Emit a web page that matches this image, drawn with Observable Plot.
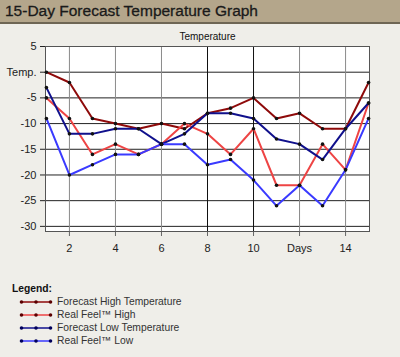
<!DOCTYPE html>
<html>
<head>
<meta charset="utf-8">
<script src="https://cdn.jsdelivr.net/npm/d3@7"></script>
<script src="https://cdn.jsdelivr.net/npm/@observablehq/plot@0.6"></script>
<style>
  html, body { margin: 0; padding: 0; }
  body { width: 400px; height: 357px; background: #efeee9; position: relative; overflow: hidden; font-family: "Liberation Sans", Arial, sans-serif; }
  #header { position: absolute; left: 0; top: 0; width: 400px; height: 22px; background: #b4a68b; border-bottom: 2px solid #6e6654; }
  #header span { position: absolute; left: 5px; top: 2px; font-size: 15.5px; color: #1a1a1a; font-weight: normal; -webkit-text-stroke: 0.3px #1a1a1a; }
  #chart { position: absolute; left: 0; top: 26px; }
  #legend { position: absolute; left: 12px; top: 283px; font-size: 10.3px; color: #333; }
  #legend .t { font-weight: bold; color: #111; margin-bottom: 1px; }
  #legend .row { height: 13px; display: flex; align-items: center; }
  #legend svg { margin-left: 7px; margin-right: 4px; }
</style>
</head>
<body>
<div id="header"><span>15-Day Forecast Temperature Graph</span></div>
<div id="chart"></div>
<div id="legend"></div>
<script>
const days = [1,2,3,4,5,6,7,8,9,10,11,12,13,14,15];
const forecastHigh = [0,-2,-9,-10,-11,-10,-11,-8,-7,-5,-9,-8,-11,-11,-2];
const realFeelHigh = [-5,-9,-16,-14,-16,-14,-10,-12,-16,-11,-22,-22,-14,-19,-6];
const forecastLow = [-3,-12,-12,-11,-11,-14,-12,-8,-8,-9,-13,-14,-17,-11,-6];
const realFeelLow = [-9,-20,-18,-16,-16,-14,-14,-18,-17,-21,-26,-22,-26,-19,-9];
const seriesNames = ["Forecast High Temperature", "Real Feel\u2122 High", "Forecast Low Temperature", "Real Feel\u2122 Low"];
const seriesColors = ["#8e0a0a", "#ee4444", "#10108c", "#3a3aff"];
const yTicks = [5,0,-5,-10,-15,-20,-25,-30];
const xTicks = [2,4,6,8,10,12,14];
const yTickLabels = {"0": "Temp."};
const xTickLabels = {"12": "Days"};
const chartTitle = "Temperature";

const allSeries = [forecastHigh, realFeelHigh, forecastLow, realFeelLow];
const rows = [];
allSeries.forEach((vals, si) => vals.forEach((v, i) => rows.push({day: days[i], temp: v, series: seriesNames[si]})));

const plot = Plot.plot({
  width: 400,
  height: 245,
  marginLeft: 45,
  marginRight: 31,
  marginTop: 20,
  marginBottom: 40,
  style: { background: "transparent", fontFamily: "Liberation Sans, Arial, sans-serif", fontSize: "11px", color: "#222" },
  x: { domain: [0.96, 15.04], ticks: xTicks, tickFormat: d => xTickLabels[d] ?? String(d), label: null, tickSize: 5, tickPadding: 6 },
  y: { domain: [-31, 5], ticks: yTicks, tickFormat: d => yTickLabels[d] ?? String(d), label: null, tickSize: 5, tickPadding: 4 },
  color: { domain: seriesNames, range: seriesColors },
  marks: [
    Plot.frame({ fill: "white" }),
    Plot.ruleY(yTicks, { stroke: "#222", strokeWidth: 1 }),
    Plot.ruleX(xTicks, { stroke: d => (d === 8 || d === 10) ? "#111" : "#8a8a8a", strokeWidth: 1 }),
    Plot.axisY({ ticks: yTicks, tickFormat: d => yTickLabels[d] ?? String(d), tickSize: 5, stroke: "#222", fontSize: 11 }),
    Plot.axisX({ ticks: xTicks, tickFormat: d => xTickLabels[d] ?? String(d), tickSize: 5, stroke: "#666", fontSize: 11, tickPadding: 8 }),
    Plot.frame({ stroke: "#555", strokeWidth: 1 }),
    Plot.line(rows, { x: "day", y: "temp", z: "series", stroke: "series", strokeWidth: 2 }),
    Plot.dot(rows, { x: "day", y: "temp", r: 1.8, fill: "#111", stroke: null }),
    Plot.text([chartTitle], { frameAnchor: "top", dy: -14, text: d => d, fontSize: 10, fill: "#111" })
  ]
});
document.getElementById("chart").appendChild(plot);

const lg = document.getElementById("legend");
const t = document.createElement("div");
t.className = "t";
t.textContent = "Legend:";
lg.appendChild(t);
seriesNames.forEach((name, i) => {
  const row = document.createElement("div");
  row.className = "row";
  const c = seriesColors[i];
  const dc = i < 2 ? "#5a0000" : "#00005a";
  row.innerHTML = `<svg width="34" height="8"><line x1="2" y1="4" x2="32" y2="4" stroke="${c}" stroke-width="1.5"/>` +
    `<circle cx="2.5" cy="4" r="1.8" fill="${dc}"/><circle cx="17" cy="4" r="1.8" fill="${dc}"/><circle cx="31.5" cy="4" r="1.8" fill="${dc}"/></svg><span>${name}</span>`;
  lg.appendChild(row);
});
</script>
</body>
</html>
